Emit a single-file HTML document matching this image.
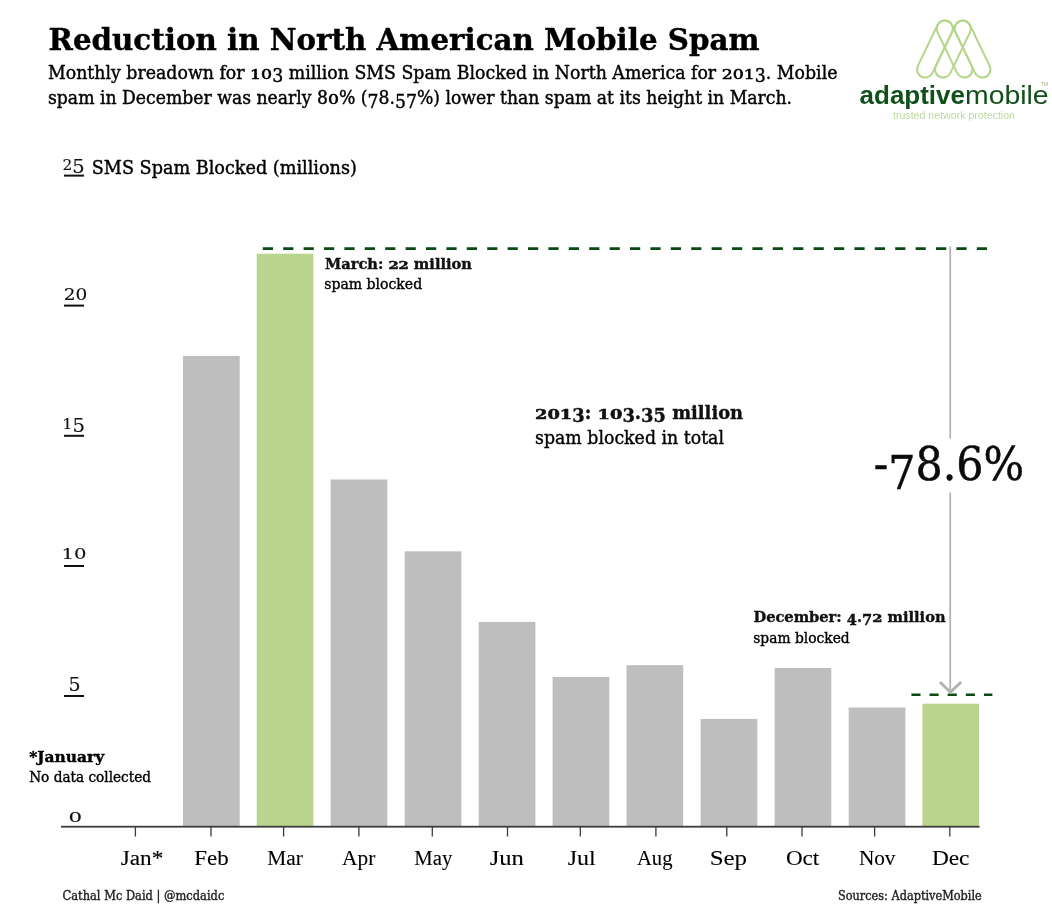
<!DOCTYPE html>
<html><head><meta charset="utf-8"><title>Reduction in North American Mobile Spam</title>
<style>html,body{margin:0;padding:0;background:#fff;} svg{display:block;will-change:transform;}</style></head>
<body>
<svg width="1052" height="924" viewBox="0 0 1052 924">
<rect width="1052" height="924" fill="#fff"/>
<text x="48.5" y="49.6" font-size="30" font-weight="bold" fill="#000" stroke="#000" stroke-width="0.4" font-family="&apos;DejaVu Serif&apos;, &apos;Liberation Serif&apos;, serif" textLength="711" lengthAdjust="spacingAndGlyphs">Reduction in North American Mobile Spam</text>
<text x="48" y="78.8" font-size="17.6" fill="#000" stroke="#000" stroke-width="0.4" font-family="&apos;DejaVu Serif&apos;, &apos;Liberation Serif&apos;, serif" xml:space="preserve"><tspan textLength="202.09" lengthAdjust="spacingAndGlyphs">Monthly breadown for </tspan><tspan textLength="22.07" lengthAdjust="spacingAndGlyphs" font-size="12.5" stroke-width="0.52">10</tspan><tspan textLength="11.04" lengthAdjust="spacingAndGlyphs" dy="3.52">3</tspan><tspan textLength="438.46" lengthAdjust="spacingAndGlyphs" dy="-3.52"> million SMS Spam Blocked in North America for </tspan><tspan textLength="33.11" lengthAdjust="spacingAndGlyphs" font-size="12.5" stroke-width="0.52">201</tspan><tspan textLength="11.04" lengthAdjust="spacingAndGlyphs" dy="3.52">3</tspan><tspan textLength="71.69" lengthAdjust="spacingAndGlyphs" dy="-3.52">. Mobile</tspan></text>
<text x="48" y="104" font-size="17.6" fill="#000" stroke="#000" stroke-width="0.4" font-family="&apos;DejaVu Serif&apos;, &apos;Liberation Serif&apos;, serif" xml:space="preserve"><tspan textLength="279.98" lengthAdjust="spacingAndGlyphs">spam in December was nearly 8</tspan><tspan textLength="10.97" lengthAdjust="spacingAndGlyphs" font-size="12.5" stroke-width="0.52">0</tspan><tspan textLength="28.58" lengthAdjust="spacingAndGlyphs">% (</tspan><tspan textLength="10.97" lengthAdjust="spacingAndGlyphs" dy="3.52">7</tspan><tspan textLength="16.45" lengthAdjust="spacingAndGlyphs" dy="-3.52">8.</tspan><tspan textLength="21.93" lengthAdjust="spacingAndGlyphs" dy="3.52">57</tspan><tspan textLength="375.12" lengthAdjust="spacingAndGlyphs" dy="-3.52">%) lower than spam at its height in March.</tspan></text>
<text x="91.8" y="173.6" font-size="17.6" fill="#000" stroke="#000" stroke-width="0.4" font-family="&apos;DejaVu Serif&apos;, &apos;Liberation Serif&apos;, serif" textLength="265" lengthAdjust="spacingAndGlyphs">SMS Spam Blocked (millions)</text>
<text x="62.4" y="169.5" fill="#111" stroke="#111" stroke-width="0.15" font-family="&apos;DejaVu Serif&apos;, &apos;Liberation Serif&apos;, serif" font-size="16" textLength="22.2" lengthAdjust="spacingAndGlyphs"><tspan font-size="15">2</tspan><tspan font-size="19" dy="3.5">5</tspan></text>
<text x="63.8" y="299.7" fill="#111" stroke="#111" stroke-width="0.15" font-family="&apos;DejaVu Serif&apos;, &apos;Liberation Serif&apos;, serif" font-size="16" textLength="23.6" lengthAdjust="spacingAndGlyphs"><tspan font-size="16">2</tspan><tspan font-size="16">0</tspan></text>
<text x="62.2" y="428.8" fill="#111" stroke="#111" stroke-width="0.15" font-family="&apos;DejaVu Serif&apos;, &apos;Liberation Serif&apos;, serif" font-size="16" textLength="22.8" lengthAdjust="spacingAndGlyphs"><tspan font-size="15.6">1</tspan><tspan font-size="19" dy="3.1">5</tspan></text>
<text x="61.6" y="558.8" fill="#111" stroke="#111" stroke-width="0.15" font-family="&apos;DejaVu Serif&apos;, &apos;Liberation Serif&apos;, serif" font-size="16" textLength="25" lengthAdjust="spacingAndGlyphs"><tspan font-size="15">1</tspan><tspan font-size="15">0</tspan></text>
<text x="68.6" y="690.9" fill="#111" stroke="#111" stroke-width="0.15" font-family="&apos;DejaVu Serif&apos;, &apos;Liberation Serif&apos;, serif" font-size="16" textLength="12.1" lengthAdjust="spacingAndGlyphs"><tspan font-size="19">5</tspan></text>
<text x="68.4" y="821.8" fill="#111" stroke="#111" stroke-width="0.15" font-family="&apos;DejaVu Serif&apos;, &apos;Liberation Serif&apos;, serif" font-size="16" textLength="13.6" lengthAdjust="spacingAndGlyphs"><tspan font-size="13.5">0</tspan></text>
<rect x="64" y="174.6" width="20" height="2" fill="#111"/>
<rect x="64" y="304.6" width="20" height="2" fill="#111"/>
<rect x="64" y="434.8" width="20" height="2" fill="#111"/>
<rect x="64" y="565" width="20" height="2" fill="#111"/>
<rect x="64" y="695" width="20" height="2" fill="#111"/>
<rect x="183" y="355.9" width="56.7" height="470.6" fill="#bebebe"/>
<rect x="256.7" y="253.7" width="56.7" height="572.8" fill="#bbd58f"/>
<rect x="330.6" y="479.5" width="56.7" height="347.0" fill="#bebebe"/>
<rect x="404.7" y="551.3" width="56.7" height="275.20000000000005" fill="#bebebe"/>
<rect x="478.7" y="621.9" width="56.7" height="204.60000000000002" fill="#bebebe"/>
<rect x="552.6" y="676.9" width="56.7" height="149.60000000000002" fill="#bebebe"/>
<rect x="626.5" y="665.2" width="56.7" height="161.29999999999995" fill="#bebebe"/>
<rect x="700.6" y="718.9" width="56.7" height="107.60000000000002" fill="#bebebe"/>
<rect x="774.6" y="668.0" width="56.7" height="158.5" fill="#bebebe"/>
<rect x="848.7" y="707.5" width="56.7" height="119.0" fill="#bebebe"/>
<rect x="922.4" y="703.7" width="56.7" height="122.79999999999995" fill="#bbd58f"/>
<rect x="61" y="825.8" width="918.5" height="1.8" fill="#3c3c3c"/>
<rect x="134.75" y="826" width="1.3" height="10.5" fill="#3c3c3c"/>
<rect x="210.35" y="826" width="1.3" height="10.5" fill="#3c3c3c"/>
<rect x="282.95000000000005" y="826" width="1.3" height="10.5" fill="#3c3c3c"/>
<rect x="358.25" y="826" width="1.3" height="10.5" fill="#3c3c3c"/>
<rect x="431.65000000000003" y="826" width="1.3" height="10.5" fill="#3c3c3c"/>
<rect x="506.85" y="826" width="1.3" height="10.5" fill="#3c3c3c"/>
<rect x="579.65" y="826" width="1.3" height="10.5" fill="#3c3c3c"/>
<rect x="655.25" y="826" width="1.3" height="10.5" fill="#3c3c3c"/>
<rect x="726.15" y="826" width="1.3" height="10.5" fill="#3c3c3c"/>
<rect x="801.35" y="826" width="1.3" height="10.5" fill="#3c3c3c"/>
<rect x="873.95" y="826" width="1.3" height="10.5" fill="#3c3c3c"/>
<rect x="949.15" y="826" width="1.3" height="10.5" fill="#3c3c3c"/>
<text x="120.7" y="864.8" font-size="20.8" fill="#000" stroke="#000" stroke-width="0.1" font-family="&apos;Liberation Serif&apos;, &apos;DejaVu Serif&apos;, serif" textLength="42.6" lengthAdjust="spacingAndGlyphs">Jan*</text>
<text x="194.3" y="864.8" font-size="20.8" fill="#000" stroke="#000" stroke-width="0.1" font-family="&apos;Liberation Serif&apos;, &apos;DejaVu Serif&apos;, serif" textLength="34.4" lengthAdjust="spacingAndGlyphs">Feb</text>
<text x="267.3" y="864.8" font-size="20.8" fill="#000" stroke="#000" stroke-width="0.1" font-family="&apos;Liberation Serif&apos;, &apos;DejaVu Serif&apos;, serif" textLength="35.6" lengthAdjust="spacingAndGlyphs">Mar</text>
<text x="342.1" y="864.8" font-size="20.8" fill="#000" stroke="#000" stroke-width="0.1" font-family="&apos;Liberation Serif&apos;, &apos;DejaVu Serif&apos;, serif" textLength="33.2" lengthAdjust="spacingAndGlyphs">Apr</text>
<text x="414.3" y="864.8" font-size="20.8" fill="#000" stroke="#000" stroke-width="0.1" font-family="&apos;Liberation Serif&apos;, &apos;DejaVu Serif&apos;, serif" textLength="38.0" lengthAdjust="spacingAndGlyphs">May</text>
<text x="489.7" y="864.8" font-size="20.8" fill="#000" stroke="#000" stroke-width="0.1" font-family="&apos;Liberation Serif&apos;, &apos;DejaVu Serif&apos;, serif" textLength="34.2" lengthAdjust="spacingAndGlyphs">Jun</text>
<text x="567.7" y="864.8" font-size="20.8" fill="#000" stroke="#000" stroke-width="0.1" font-family="&apos;Liberation Serif&apos;, &apos;DejaVu Serif&apos;, serif" textLength="28.0" lengthAdjust="spacingAndGlyphs">Jul</text>
<text x="636.9" y="864.8" font-size="20.8" fill="#000" stroke="#000" stroke-width="0.1" font-family="&apos;Liberation Serif&apos;, &apos;DejaVu Serif&apos;, serif" textLength="35.6" lengthAdjust="spacingAndGlyphs">Aug</text>
<text x="709.7" y="864.8" font-size="20.8" fill="#000" stroke="#000" stroke-width="0.1" font-family="&apos;Liberation Serif&apos;, &apos;DejaVu Serif&apos;, serif" textLength="37.4" lengthAdjust="spacingAndGlyphs">Sep</text>
<text x="785.9" y="864.8" font-size="20.8" fill="#000" stroke="#000" stroke-width="0.1" font-family="&apos;Liberation Serif&apos;, &apos;DejaVu Serif&apos;, serif" textLength="33.4" lengthAdjust="spacingAndGlyphs">Oct</text>
<text x="858.9" y="864.8" font-size="20.8" fill="#000" stroke="#000" stroke-width="0.1" font-family="&apos;Liberation Serif&apos;, &apos;DejaVu Serif&apos;, serif" textLength="36.6" lengthAdjust="spacingAndGlyphs">Nov</text>
<text x="931.9" y="864.8" font-size="20.8" fill="#000" stroke="#000" stroke-width="0.1" font-family="&apos;Liberation Serif&apos;, &apos;DejaVu Serif&apos;, serif" textLength="37.6" lengthAdjust="spacingAndGlyphs">Dec</text>
<line x1="262.8" y1="248.6" x2="987.2" y2="248.6" stroke="#0b4a16" stroke-width="2.7" stroke-dasharray="10.2 10.2"/>
<line x1="911.4" y1="694.75" x2="992.4" y2="694.75" stroke="#0b4a16" stroke-width="2.4" stroke-dasharray="9.1 9.05"/>
<line x1="950.2" y1="246.4" x2="950.2" y2="438.5" stroke="#b3b3b3" stroke-width="1.8"/>
<line x1="950.2" y1="492.5" x2="950.2" y2="691" stroke="#b3b3b3" stroke-width="1.8"/>
<polyline points="940,682 950.4,692.2 961.2,682" fill="none" stroke="#b3b3b3" stroke-width="3"/>
<text x="325" y="268.6" font-size="14.8" font-weight="bold" fill="#111" stroke="#111" stroke-width="0.4" font-family="&apos;DejaVu Serif&apos;, &apos;Liberation Serif&apos;, serif" xml:space="preserve"><tspan textLength="63.43" lengthAdjust="spacingAndGlyphs">March: </tspan><tspan textLength="20.36" lengthAdjust="spacingAndGlyphs" font-size="10.51" stroke-width="0.52">22</tspan><tspan textLength="63.2" lengthAdjust="spacingAndGlyphs"> million</tspan></text>
<text x="324.2" y="288.8" font-size="15.2" fill="#000" stroke="#000" stroke-width="0.4" font-family="&apos;DejaVu Serif&apos;, &apos;Liberation Serif&apos;, serif" textLength="98" lengthAdjust="spacingAndGlyphs">spam blocked</text>
<text x="535" y="418.6" font-size="19.3" font-weight="bold" fill="#111" stroke="#111" stroke-width="0.4" font-family="&apos;DejaVu Serif&apos;, &apos;Liberation Serif&apos;, serif" xml:space="preserve"><tspan textLength="37.29" lengthAdjust="spacingAndGlyphs" font-size="13.7" stroke-width="0.52">201</tspan><tspan textLength="12.43" lengthAdjust="spacingAndGlyphs" dy="3.86">3</tspan><tspan textLength="12.82" lengthAdjust="spacingAndGlyphs" dy="-3.86">: </tspan><tspan textLength="24.87" lengthAdjust="spacingAndGlyphs" font-size="13.7" stroke-width="0.52">10</tspan><tspan textLength="12.43" lengthAdjust="spacingAndGlyphs" dy="3.86">3</tspan><tspan textLength="6.22" lengthAdjust="spacingAndGlyphs" dy="-3.86">.</tspan><tspan textLength="24.87" lengthAdjust="spacingAndGlyphs" dy="3.86">35</tspan><tspan textLength="77.16" lengthAdjust="spacingAndGlyphs" dy="-3.86"> million</tspan></text>
<text x="535" y="444" font-size="19.1" fill="#000" stroke="#000" stroke-width="0.4" font-family="&apos;DejaVu Serif&apos;, &apos;Liberation Serif&apos;, serif" textLength="189" lengthAdjust="spacingAndGlyphs">spam blocked in total</text>
<text x="873.7" y="480.1" font-size="46" fill="#0a0a0a" stroke="#0a0a0a" stroke-width="0.5" font-family="&apos;DejaVu Serif&apos;, &apos;Liberation Serif&apos;, serif" textLength="150.5" lengthAdjust="spacingAndGlyphs">-<tspan dy="8.5">7</tspan><tspan dy="-8.5">8.6%</tspan></text>
<text x="753.5" y="622.4" font-size="14.8" font-weight="bold" fill="#111" stroke="#111" stroke-width="0.4" font-family="&apos;DejaVu Serif&apos;, &apos;Liberation Serif&apos;, serif" xml:space="preserve"><tspan textLength="93.3" lengthAdjust="spacingAndGlyphs">December: </tspan><tspan textLength="10.17" lengthAdjust="spacingAndGlyphs" dy="2.96">4</tspan><tspan textLength="5.09" lengthAdjust="spacingAndGlyphs" dy="-2.96">.</tspan><tspan textLength="10.17" lengthAdjust="spacingAndGlyphs" dy="2.96">7</tspan><tspan textLength="10.17" lengthAdjust="spacingAndGlyphs" dy="-2.96" font-size="10.51" stroke-width="0.52">2</tspan><tspan textLength="63.11" lengthAdjust="spacingAndGlyphs"> million</tspan></text>
<text x="753.2" y="642.9" font-size="15.2" fill="#000" stroke="#000" stroke-width="0.4" font-family="&apos;DejaVu Serif&apos;, &apos;Liberation Serif&apos;, serif" textLength="96.5" lengthAdjust="spacingAndGlyphs">spam blocked</text>
<text x="29.2" y="761.7" font-size="14.8" font-weight="bold" fill="#000" stroke="#000" stroke-width="0.4" font-family="&apos;DejaVu Serif&apos;, &apos;Liberation Serif&apos;, serif" textLength="75" lengthAdjust="spacingAndGlyphs">*January</text>
<text x="29.2" y="781.6" font-size="15.2" fill="#000" stroke="#000" stroke-width="0.4" font-family="&apos;DejaVu Serif&apos;, &apos;Liberation Serif&apos;, serif" textLength="121.8" lengthAdjust="spacingAndGlyphs">No data collected</text>
<text x="62.5" y="899.7" font-size="12.4" fill="#222" stroke="#222" stroke-width="0.4" font-family="&apos;DejaVu Serif&apos;, &apos;Liberation Serif&apos;, serif" textLength="161.8" lengthAdjust="spacingAndGlyphs">Cathal Mc Daid | @mcdaidc</text>
<text x="838" y="899.8" font-size="12.4" fill="#222" stroke="#222" stroke-width="0.4" font-family="&apos;DejaVu Serif&apos;, &apos;Liberation Serif&apos;, serif" textLength="143.8" lengthAdjust="spacingAndGlyphs">Sources: AdaptiveMobile</text>
<g fill="none" stroke="#b6d68c" stroke-width="2.1"><path d="M932.47,72.91 L952.07,32.11 A8.1,8.1 0 0 0 937.46,25.09 L917.86,65.89 A8.1,8.1 0 0 0 932.47,72.91 Z"/><path d="M950.44,72.91 L970.04,32.11 A8.1,8.1 0 0 0 955.43,25.09 L935.83,65.89 A8.1,8.1 0 0 0 950.44,72.91 Z"/><path d="M971.67,65.89 L952.07,25.09 A8.1,8.1 0 0 0 937.46,32.11 L957.06,72.91 A8.1,8.1 0 0 0 971.67,65.89 Z"/><path d="M989.64,65.89 L970.04,25.09 A8.1,8.1 0 0 0 955.43,32.11 L975.03,72.91 A8.1,8.1 0 0 0 989.64,65.89 Z"/></g>
<text x="859.6" y="104" font-family="'Liberation Sans', 'DejaVu Sans', sans-serif" font-size="25.5" fill="#10501a"><tspan font-weight="bold" textLength="105.4" lengthAdjust="spacingAndGlyphs">adaptive</tspan><tspan textLength="83.6" lengthAdjust="spacingAndGlyphs">mobile</tspan></text>
<text x="893" y="119" font-family="'Liberation Sans', 'DejaVu Sans', sans-serif" font-size="10" fill="#bcd9a0" textLength="122" lengthAdjust="spacingAndGlyphs">trusted network protection</text>
<text x="1041" y="86" font-family="'Liberation Sans', 'DejaVu Sans', sans-serif" font-size="5" fill="#9ab87a">TM</text>
</svg>
</body></html>
